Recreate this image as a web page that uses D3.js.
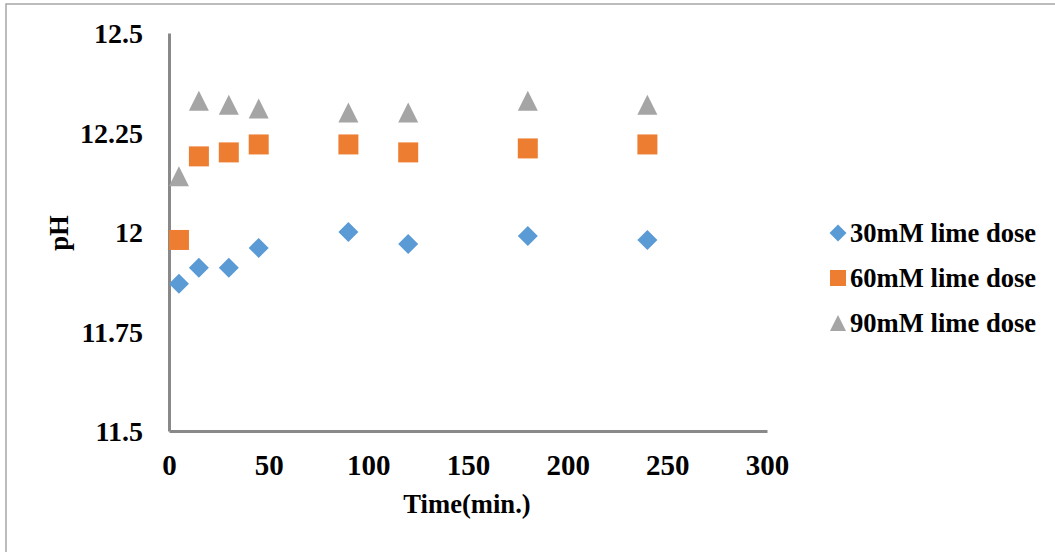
<!DOCTYPE html>
<html>
<head>
<meta charset="utf-8">
<script src="https://cdn.jsdelivr.net/npm/d3@7"></script>
<style>
  html, body { margin: 0; padding: 0; background: #fff; }
  svg { display: block; }
  text { font-family: "Liberation Serif", "Times New Roman", serif; font-weight: bold; fill: #000; }
</style>
</head>
<body>
<svg id="chart" width="1055" height="552"></svg>
<script>
// Sampling times (min.)
const times = [5, 15, 30, 45, 90, 120, 180, 240];
// pH readings for each lime dose
const ph30 = [11.87, 11.91, 11.91, 11.96, 12.00, 11.97, 11.99, 11.98];
const ph60 = [11.98, 12.19, 12.20, 12.22, 12.22, 12.20, 12.21, 12.22];
const ph90 = [12.14, 12.33, 12.32, 12.31, 12.30, 12.30, 12.33, 12.32];
const seriesNames = ["30mM lime dose", "60mM lime dose", "90mM lime dose"];
const xTicks = [0, 50, 100, 150, 200, 250, 300];
const yTicks = [11.5, 11.75, 12, 12.25, 12.5];

const svg = d3.select("#chart");

// chart frame
svg.append("rect")
  .attr("x", 6).attr("y", 4)
  .attr("width", 1100).attr("height", 600)
  .attr("fill", "#fff")
  .attr("stroke", "#a6a6a6").attr("stroke-width", 1.5);

const x = d3.scaleLinear().domain([0, 300]).range([169, 767]);
const y = d3.scaleLinear().domain([11.5, 12.5]).range([431, 33]);

// marker shapes
const shapes = {
  diamond: s => `M0,${-s}L${s},0L0,${s}L${-s},0Z`,
  square: s => `M${-s},${-s}H${s}V${s}H${-s}Z`,
  triangle: s => `M0,${-s}L${s},${s}H${-s}Z`
};

const series = [
  { name: seriesNames[0], values: ph30, color: "#5b9bd5", shape: "diamond", size: 10, lsize: 8.5 },
  { name: seriesNames[1], values: ph60, color: "#ed7d31", shape: "square", size: 10, lsize: 8 },
  { name: seriesNames[2], values: ph90, color: "#a5a5a5", shape: "triangle", size: 10, lsize: 8 }
];

// axes
const xAxis = svg.append("g")
  .attr("transform", `translate(0,${y(11.5)})`)
  .call(d3.axisBottom(x).tickValues(xTicks).tickSize(0).tickPadding(23).tickFormat(d3.format("d")));
const yAxis = svg.append("g")
  .attr("transform", `translate(${x(0)},0)`)
  .call(d3.axisLeft(y).tickValues(yTicks).tickSize(0).tickPadding(26).tickFormat(d => String(d)));

[xAxis, yAxis].forEach(g => {
  g.select(".domain").attr("stroke", "#898989").attr("stroke-width", 3);
  g.selectAll("text")
    .style("font-family", '"Liberation Serif", "Times New Roman", serif')
    .style("font-weight", "bold")
    .attr("fill", "#000");
});
xAxis.selectAll("text").style("font-size", "29px").attr("dy", "0.71em");
yAxis.selectAll("text").style("font-size", "28px").attr("dy", "0.35em");

// points
series.forEach(s => {
  svg.append("g").selectAll("path")
    .data(times.map((t, i) => [t, s.values[i]]))
    .join("path")
    .attr("transform", d => `translate(${x(d[0])},${y(d[1])})`)
    .attr("d", shapes[s.shape](s.size))
    .attr("fill", s.color);
});

// axis titles
svg.append("text")
  .attr("x", 467).attr("y", 513)
  .attr("text-anchor", "middle")
  .style("font-size", "26.6px")
  .text("Time(min.)");
svg.append("text")
  .attr("transform", "translate(68,233) rotate(-90)")
  .attr("text-anchor", "middle")
  .style("font-size", "26.6px")
  .text("pH");

// legend
const legend = svg.append("g");
series.forEach((s, i) => {
  const cy = 233 + i * 45;
  legend.append("path")
    .attr("transform", `translate(838,${cy})`)
    .attr("d", shapes[s.shape](s.lsize))
    .attr("fill", s.color);
  legend.append("text")
    .attr("x", 850).attr("y", cy)
    .attr("dy", "0.35em")
    .style("font-size", "26.6px")
    .text(s.name);
});
</script>
</body>
</html>
